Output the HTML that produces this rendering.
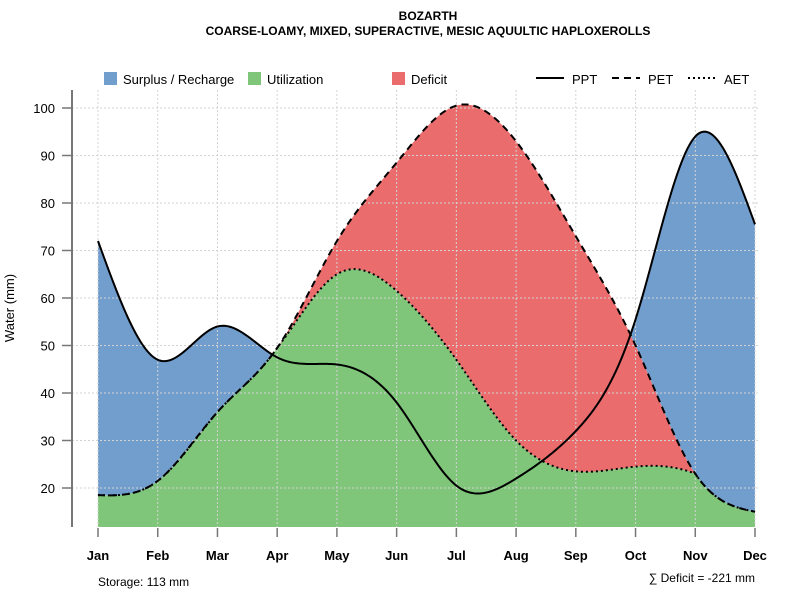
<!DOCTYPE html>
<html><head><meta charset="utf-8"><style>
body{margin:0;background:#fff;}
svg text{font-family:"Liberation Sans",Arial,sans-serif;}
</style></head><body>
<svg id="chart" width="800" height="600" xmlns="http://www.w3.org/2000/svg">
<text x="428" y="20" font-size="12" font-weight="bold" text-anchor="middle">BOZARTH</text>
<text x="428" y="35" font-size="12" font-weight="bold" text-anchor="middle">COARSE-LOAMY, MIXED, SUPERACTIVE, MESIC AQUULTIC HAPLOXEROLLS</text>
<g id="fills"></g>
<g id="grid"></g>
<g id="lines"></g>
<g id="axes"></g>
<g font-size="13">
<rect x="104" y="72" width="13" height="13" fill="#729ECE"/>
<text x="123" y="84">Surplus / Recharge</text>
<rect x="248" y="72" width="13" height="13" fill="#7FC57A"/>
<text x="267" y="84">Utilization</text>
<rect x="392" y="72" width="13" height="13" fill="#EB6C6D"/>
<text x="411" y="84">Deficit</text>
<line x1="536" y1="78" x2="564" y2="78" stroke="#000" stroke-width="2"/>
<text x="572" y="84">PPT</text>
<line x1="612" y1="78" x2="640" y2="78" stroke="#000" stroke-width="2" stroke-dasharray="7,5"/>
<text x="648" y="84">PET</text>
<line x1="688" y1="78" x2="716" y2="78" stroke="#000" stroke-width="2" stroke-dasharray="2,3"/>
<text x="724" y="84">AET</text>
</g>
<text x="14" y="308" font-size="13" text-anchor="middle" transform="rotate(-90 14 308)">Water (mm)</text>
<text x="98" y="586" font-size="12">Storage: 113 mm</text>
<text x="755" y="582" font-size="12" text-anchor="end">∑ Deficit = -221 mm</text>
</svg>
<script>
const months = ["Jan","Feb","Mar","Apr","May","Jun","Jul","Aug","Sep","Oct","Nov","Dec"];
const ppt = [72, 47, 54, 47.5, 46, 38, 20.5, 22, 32, 55.5, 94, 75.5];
const pet = [18.5, 21.5, 36, 49.5, 72, 88.5, 100.5, 93, 73, 50, 23, 15];
const aet = [18.5, 21.5, 36, 49.5, 65, 61.5, 47, 30, 23.5, 24.5, 23, 15];
const yTicks = [20, 30, 40, 50, 60, 70, 80, 90, 100];

const NS = "http://www.w3.org/2000/svg";
const x0 = 98, x1 = 755, yBase = 527;
function xs(i){ return x0 + (x1 - x0) * i / (months.length - 1); }
function ys(v){ return 488 - (v - 20) * 4.75; }
function mk(tag, attrs, parent){
  const e = document.createElementNS(NS, tag);
  for (const k in attrs) e.setAttribute(k, attrs[k]);
  parent.appendChild(e); return e;
}
function spline(y){
  const n = y.length, m = new Array(n).fill(0);
  const a = [], b = [], c = [], d = [];
  for (let i = 0; i < n; i++){ a[i]=0; b[i]=1; c[i]=0; d[i]=0; }
  for (let i = 1; i < n-1; i++){ a[i]=1; b[i]=4; c[i]=1; d[i]=6*(y[i+1]-2*y[i]+y[i-1]); }
  for (let i = 1; i < n; i++){ const w = a[i]/b[i-1]; b[i]-=w*c[i-1]; d[i]-=w*d[i-1]; }
  m[n-1] = d[n-1]/b[n-1];
  for (let i = n-2; i >= 0; i--) m[i] = (d[i]-c[i]*m[i+1])/b[i];
  const pts = [];
  for (let i = 0; i < n-1; i++){
    for (let k = 0; k < 30; k++){
      const t = k/30;
      const v = (1-t)*y[i] + t*y[i+1] + ((Math.pow(1-t,3)-(1-t))*m[i] + (Math.pow(t,3)-t)*m[i+1])/6;
      pts.push([i+t, v]);
    }
  }
  pts.push([n-1, y[n-1]]);
  return pts;
}
const P = spline(ppt), E = spline(pet);
const A = spline(aet).map((p,i)=>[p[0], Math.min(p[1], E[i][1])]);
const fills = document.getElementById("fills");
function poly(top, bot){
  let s = top.map(p => xs(p[0]).toFixed(2)+","+ys(p[1]).toFixed(2));
  let r = bot.slice().reverse().map(p => xs(p[0]).toFixed(2)+","+ys(p[1]).toFixed(2));
  return s.concat(r).join(" ");
}
const baseV = 20 - (yBase - 488)/4.75;
const baseline = A.map(p => [p[0], baseV]);
const pg = mk("polygon", {points: poly(A, baseline), fill: "#7FC57A"}, fills);


const pr = mk("polygon", {points: poly(E, A), fill: "#EB6C6D"}, fills);


const pb = mk("polygon", {points: poly(P.map((p,i)=>[p[0], Math.max(p[1], E[i][1])]), E), fill: "#729ECE"}, fills);



const grid = document.getElementById("grid");
yTicks.forEach(v => {
  const g = mk("line", {x1: 72, x2: 760, y1: ys(v), y2: ys(v), stroke: "#d3d3d3", "stroke-width": 1, "stroke-dasharray": "2,2"}, grid);
  
  
});
months.forEach((m, i) => {
  const g = mk("line", {x1: xs(i), x2: xs(i), y1: 90, y2: yBase, stroke: "#d3d3d3", "stroke-width": 1, "stroke-dasharray": "2,2"}, grid);
  
  
});

const lines = document.getElementById("lines");
function pathD(pts){ return pts.map((p,i)=>(i?"L":"M")+xs(p[0]).toFixed(2)+","+ys(p[1]).toFixed(2)).join(""); }
const la = mk("path", {d: pathD(A), fill: "none", stroke: "#000", "stroke-width": 2, "stroke-dasharray": "2,3"}, lines);


const le = mk("path", {d: pathD(E), fill: "none", stroke: "#000", "stroke-width": 2, "stroke-dasharray": "7,5"}, lines);


const lp = mk("path", {d: pathD(P), fill: "none", stroke: "#000", "stroke-width": 2}, lines);



const axes = document.getElementById("axes");
const ya = mk("line", {x1: 72, x2: 72, y1: 90, y2: yBase, stroke: "#777", "stroke-width": 2}, axes);


yTicks.forEach(v => {
  const t = mk("line", {x1: 62, x2: 72, y1: ys(v), y2: ys(v), stroke: "#777", "stroke-width": 1.5}, axes);
  
  
  const l = mk("text", {x: 55, y: ys(v)+5, "font-size": 13, "text-anchor": "end"}, axes);
  l.textContent = v;
  
  
});
months.forEach((m, i) => {
  const t = mk("line", {x1: xs(i), x2: xs(i), y1: 528, y2: 537, stroke: "#777", "stroke-width": 1.5}, axes);
  
  
  const l = mk("text", {x: xs(i), y: 560, "font-size": 13, "font-weight": "bold", "text-anchor": "middle"}, axes);
  l.textContent = m;
  
  
});
</script>
</body></html>
